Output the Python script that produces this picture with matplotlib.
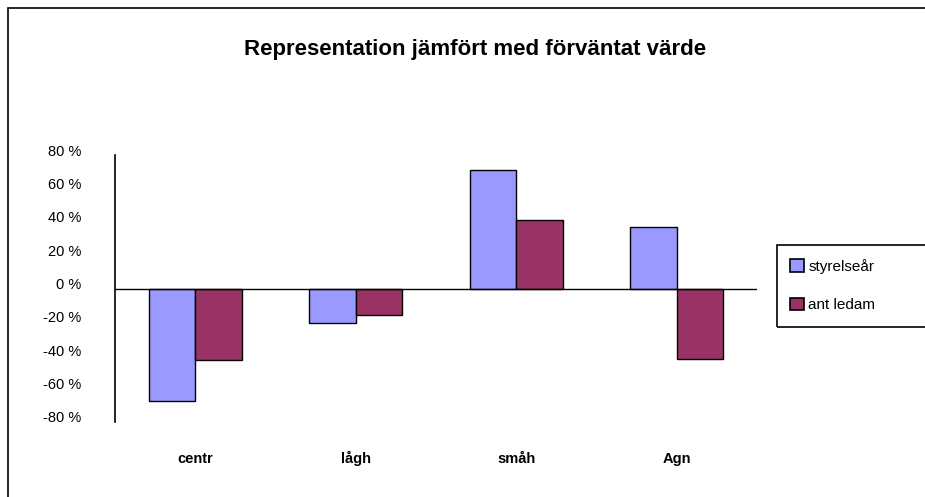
import matplotlib.pyplot as plt
import matplotlib.transforms as mtransforms
from matplotlib.patches import Rectangle
import numpy as np

categories = ["centr", "lågh", "småh", "Agn"]
styrelsear = [-0.675, -0.205, 0.71, 0.37]
ant_ledam = [-0.43, -0.16, 0.41, -0.42]
yticks = [-0.8, -0.6, -0.4, -0.2, 0.0, 0.2, 0.4, 0.6, 0.8]

plt.rcParams['font.family'] = ['Liberation Sans', 'DejaVu Sans']

fig = plt.figure(figsize=(9.25, 4.97), dpi=100)

# outer frame, cut off at right and bottom like the original
fig.patches.append(Rectangle((8 / 925, -0.1), 1.2, 1 - 8 / 497 + 0.1,
                             transform=fig.transFigure, fill=False,
                             edgecolor='black', linewidth=1.2))
# legend box, also running off the right edge
fig.patches.append(Rectangle((777 / 925, 1 - 327 / 497), 0.5, 82 / 497,
                             transform=fig.transFigure, fill=False,
                             edgecolor='black', linewidth=1.2))

ax = fig.add_axes([115 / 925, 1 - 422 / 497, 642 / 925, 267 / 497])

x = np.arange(len(categories))
w = 0.29
ax.bar(x - w / 2, styrelsear, w, color='#9999FF', edgecolor='black',
       linewidth=1, label='styrelseår', zorder=2)
ax.bar(x + w / 2, ant_ledam, w, color='#993366', edgecolor='black',
       linewidth=1, label='ant ledam', zorder=2)
ax.axhline(0, color='black', linewidth=1, zorder=3)

ax.set_xlim(-0.5, len(categories) - 0.5)
ax.set_ylim(-0.8, 0.8)
for s in ['top', 'right', 'bottom']:
    ax.spines[s].set_visible(False)
ax.spines['left'].set_linewidth(1.2)

ax.set_yticks(yticks)
ax.set_yticklabels(['%d %%' % round(v * 100) for v in yticks], fontsize=10.5)
ax.tick_params(axis='y', length=0, pad=24)
offset = mtransforms.ScaledTranslation(0, 5 / 100, fig.dpi_scale_trans)
for lbl in ax.get_yticklabels():
    lbl.set_transform(lbl.get_transform() + offset)

ax.set_xticks(x)
ax.set_xticklabels(categories, fontsize=10.5, fontweight='bold')
ax.tick_params(axis='x', length=0, pad=28)
for lbl in ax.get_xticklabels():
    lbl.set_verticalalignment('baseline')
    lbl.set_transform(lbl.get_transform()
                      + mtransforms.ScaledTranslation(0, -2 / 100, fig.dpi_scale_trans))

fig.text(475 / 925, 1 - 50 / 497, 'Representation jämfört med förväntat värde',
         ha='center', va='center', fontsize=16, fontweight='bold')

leg = fig.legend(loc='upper left', bbox_to_anchor=(790 / 925, 1 - 259 / 497),
                 frameon=False, fontsize=11,
                 handlelength=0.9, handleheight=0.9, handletextpad=0.3,
                 labelspacing=1.55, borderpad=0, borderaxespad=0)
for p in leg.get_patches():
    p.set_linewidth(1.2)

fig.savefig('out.png', dpi=100)
